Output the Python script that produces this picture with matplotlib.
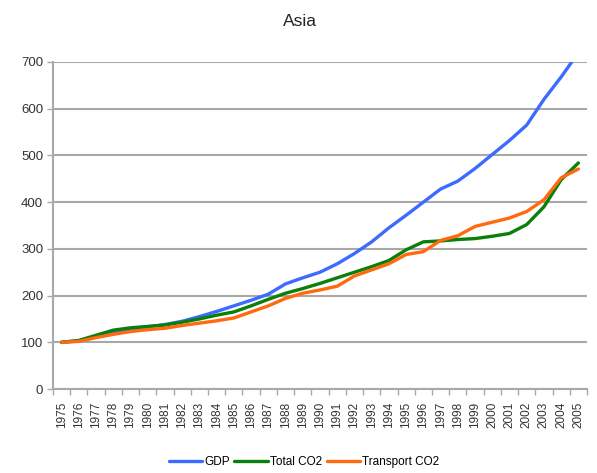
import matplotlib
matplotlib.use("Agg")
import matplotlib.pyplot as plt
import numpy as np

years = [str(y) for y in range(1975, 2006)]
gdp = [100, 103, 112, 122, 128, 133, 138, 145, 155, 166, 178, 190, 203, 225, 238, 250,
       268, 290, 315, 345, 372, 400, 428, 445, 472, 502, 532, 565, 620, 668, 720]
total_co2 = [100, 104, 115, 126, 131, 134, 137, 143, 150, 158, 165, 178, 192, 205, 215, 226,
             238, 250, 262, 275, 298, 315, 317, 320, 322, 327, 333, 352, 390, 448, 484]
transport_co2 = [100, 102, 110, 117, 123, 127, 130, 136, 141, 146, 152, 165, 178, 194, 205, 212,
                 220, 242, 255, 268, 288, 294, 318, 328, 348, 357, 366, 380, 405, 452, 471]
yticks = [0, 100, 200, 300, 400, 500, 600, 700]

plt.rcParams['font.family'] = ['Liberation Sans', 'DejaVu Sans']
fig = plt.figure(figsize=(5.97, 4.73), dpi=100)
ax = fig.add_axes([53/597, 1-389/473, 534/597, 327/473])

x = np.arange(len(years))
ax.plot(x, gdp, color='#3d6bff', lw=2.4, label='GDP', solid_capstyle='round')
ax.plot(x, total_co2, color='#0a800a', lw=2.4, label='Total CO2', solid_capstyle='round')
ax.plot(x, transport_co2, color='#ff6a10', lw=2.4, label='Transport CO2', solid_capstyle='round')

ax.set_xlim(-0.5, len(years) - 0.5)
ax.set_ylim(0, 700)
ax.set_yticks(yticks)
ax.set_yticklabels([str(v) for v in yticks], fontsize=9.5, color='#333333')
ax.yaxis.grid(True, color='#a8a8a8', lw=1.5)
ax.set_axisbelow(True)

ax.set_xticks(x)
ax.set_xticklabels(years, rotation=90, fontsize=8.5, color='#333333')
ax.set_xticks(np.arange(-0.5, len(years), 1.0), minor=True)
ax.tick_params(axis='x', which='major', length=0, pad=9)
ax.tick_params(axis='x', which='minor', length=4, color='#a8a8a8', width=1)
ax.tick_params(axis='y', length=4, color='#a8a8a8', width=1, pad=3)

for s in ['top', 'right']:
    ax.spines[s].set_visible(False)
for s in ['left', 'bottom']:
    ax.spines[s].set_color('#a8a8a8')
    ax.spines[s].set_linewidth(1.5)

fig.text(300/597, 1-22/473, 'Asia', ha='center', va='center', fontsize=12.5, color='#222222')

fig.legend(loc='center', bbox_to_anchor=(304/597, 1-462/473), ncol=3, frameon=False,
           fontsize=8.5, handlelength=2.8, handletextpad=0.2, columnspacing=0.4)

fig.savefig('out.png', dpi=100)
